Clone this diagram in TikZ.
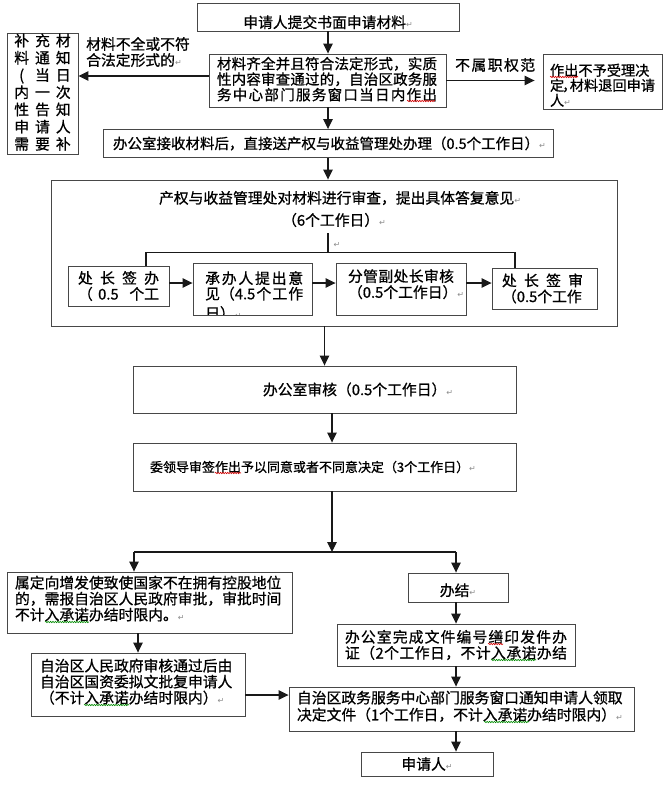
\documentclass[tikz,border=0pt]{standalone}
\usepackage{fontspec}
\newfontfamily\cjk[FakeBold=0.8]{Noto Sans CJK SC}
\newfontfamily\pmfont{DejaVu Sans}
\usetikzlibrary{arrows.meta,decorations.pathmorphing}
\newcommand\fsz[2]{\fontsize{#1}{#2}\selectfont}
\newcommand\parmark{{\pmfont\fontsize{8}{8}\selectfont\textcolor{black!45}{↵}}}
\makeatletter
\newcommand\spreadto[2]{\makebox[#1][s]{\spr@a#2\@nil}}
\def\spr@a#1#2\@nil{#1\ifx\relax#2\relax\else\hfill{}\spr@a#2\@nil\fi}
\makeatother
\tikzset{
  box/.style={draw=black!72, line width=0.9pt, inner ysep=0pt, align=left, font=\cjk\fsz{14.8}{16}},
  arr/.style={draw=black!90, line width=1.1pt, -{Triangle[length=10pt,width=9.5pt]}},
  conn/.style={draw=black!90, line width=1.1pt},
  txt/.style={inner sep=0pt, font=\cjk\fsz{14.8}{16}, align=left},
  spell/.style={draw=red!85!black, line width=0.6pt, decorate, decoration={snake, amplitude=0.7pt, segment length=2.4pt}},
  gram/.style={draw=green!55!black, line width=0.6pt, decorate, decoration={snake, amplitude=0.7pt, segment length=2.4pt}}
}
\begin{document}
\begin{tikzpicture}[x=1pt,y=-1pt]
\useasboundingbox (0,0) rectangle (666,795);
\fill[white] (0,0) rectangle (666,795);

% top
\node[box, text width=246pt, inner xsep=8pt, minimum height=28pt, align=center] (b1) at (328,17) {\rule{0pt}{23pt}申请人提交书面申请材料\parmark};
\node[box, font=\cjk\fsz{14.5}{15.5}, text width=221pt, inner xsep=8pt, minimum height=53pt] (b2) at (327.5,80.5) {\spreadto{220pt}{材料齐全并且符合法定形式，实质}\\\spreadto{220pt}{性内容审查通过的，自治区政务服}\\\spreadto{220pt}{务中心部门服务窗口当日内作出}\rule[-4pt]{0pt}{0pt}};
\node[box, inner sep=0pt, minimum width=71pt, minimum height=120pt] (lbox) at (42.5,94) {\begin{tabular}{@{}c@{\hspace{6pt}}c@{\hspace{6pt}}c@{}}
补&充&材\\ 料&通&知\\ (&当&日\\ 内&一&次\\ 性&告&知\\ 申&请&人\\ 需&要&补
\end{tabular}};
\node[txt, anchor=west] (lab1) at (86,52) {材料不全或不符\\合法定形式的\parmark};
\node[box, font=\cjk\fsz{14.2}{15}, text width=105pt, inner xsep=7pt, minimum height=55pt] (rbox) at (602.5,81.5) {\rule{0pt}{19.5pt}作出不予受理决\\定\kern-2pt{}，\kern-6.6pt{}材料退回申请\\人\parmark};
\node[txt, anchor=west] (lab2) at (455,65) {\spreadto{80pt}{不属职权范}};
\node[box, font=\cjk\fsz{14.5}{16}, text width=434pt, inner xsep=8pt, minimum height=28pt] (b3) at (328,143.5) {\hspace*{2pt}办公室接收材料后，直接送产权与收益管理处办理（0.5个工作日）\parmark};

\draw[arr] (b1.south) -- (b1.south |- b2.north);
\draw[arr] ([yshift=4.5pt]b2.west) -- ([yshift=4.5pt]b2.west -| lbox.east);
\draw[arr, shorten >=8pt] (b2.east) -- (b2.east -| rbox.west);
\draw[arr] (b1.south |- b2.south) -- (b1.south |- b3.north);

% big box
\node[draw=black!72, line width=0.9pt, minimum width=566pt, minimum height=146pt, inner sep=0pt] (big) at (334,253) {};
\draw[arr] (b3.south) -- (b3.south |- big.north);
\node[txt] (t1) at (340,198) {产权与收益管理处对材料进行审查，提出具体答复意见\parmark};
\node[txt] (t2) at (334,220) {（6个工作日）\parmark};
\coordinate (jt) at (328,233);
\coordinate (jm) at (328,253);
\draw[conn] (jt) -- (jm);
\node[txt] (pm1) at (337,245) {\parmark};

\node[box, text width=81pt, inner xsep=10pt, minimum height=40pt] (sb1) at (118.5,286) {\spreadto{81pt}{处长签办}\\\makebox[81pt][s]{（\hfill{}0.5\hfill\hfill{}个工}};
\begin{scope}
\clip (193,263) rectangle (312,315);
\node[txt, anchor=north west, font=\cjk\fsz{14.8}{15.5}] (sb2t) at (205,270.6) {\rule{0pt}{13pt}\spreadto{98pt}{承办人提出意}\\\makebox[98pt][s]{见（4.5\hfill{}个\hfill{}工\hfill{}作}\\[4pt]日）\parmark};
\end{scope}
\node[box, minimum width=119pt, minimum height=52pt, inner sep=0pt] (sb2) at (252.5,289) {};
\node[box, text width=106pt, inner xsep=12pt, minimum height=52pt] (sb3) at (401,289) {\spreadto{106pt}{分管副处长审核}\\（0.5个工作日）\parmark\rule[-11pt]{0pt}{0pt}};
\node[box, text width=85pt, inner xsep=10pt, minimum height=41pt] (sb4) at (544.5,288.5) {\spreadto{81pt}{处长签审}\\（0.5个工作};

\draw[conn] ([xshift=27.5pt]sb1.north) -- ++(0,-13) -| ([xshift=-29.5pt]sb4.north);
\draw[arr] ([yshift=3pt]sb1.east) -- ([yshift=3pt]sb1.east -| sb2.west);
\draw[arr] ([yshift=6pt]sb2.east) -- ([yshift=6pt]sb2.east -| sb3.west);
\draw[arr] ([yshift=6pt]sb3.east) -- ([yshift=6pt]sb3.east -| sb4.west);

% middle
\node[box, text width=367pt, inner xsep=8pt, minimum height=47pt] (audit) at (324.5,389.5) {\hspace*{122pt}办公室审核（0.5个工作日）\parmark};
\node[box, font=\cjk\fsz{13}{15}, text width=367pt, inner xsep=8pt, minimum height=48pt] (lead) at (324.5,467) {\hspace*{9pt}委领导审签作出予以同意或者不同意决定（3个工作日）\parmark};
\draw[arr] (audit.north |- big.south) -- (audit.north);
\draw[arr] ([xshift=7.5pt]audit.south) -- ([xshift=7.5pt]audit.south |- lead.north);

% bottom
\node[box, text width=269pt, inner xsep=8pt, minimum height=61pt] (L1) at (149.5,602.5) {属定向增发使致使国家不在拥有控股地位\\的，需报自治区人民政府审批，审批时间\\不计入承诺办结时限内。\parmark\rule[-9pt]{0pt}{0pt}};
\node[box, text width=196pt, inner xsep=9pt, minimum height=63pt] (L2) at (138,684.5) {自治区人民政府审核通过后由\\自治区国资委拟文批复申请人\\（不计入承诺办结时限内）\parmark\rule[-7pt]{0pt}{0pt}};
\node[box, text width=84pt, inner xsep=8pt, minimum height=29pt, align=center] (done) at (458,587.5) {\rule{0pt}{18pt}办结\parmark};
\node[box, text width=222pt, inner xsep=8pt, minimum height=42pt] (R2) at (456,645) {\spreadto{222pt}{办公室完成文件编号缮印发件办}\\\spreadto{222pt}{证（2个工作日，不计入承诺办结}};
\node[box, font=\cjk\fsz{14.8}{17}, text width=329pt, inner xsep=8pt, minimum height=44pt] (R3) at (461.5,709) {自治区政务服务中心部门服务窗口通知申请人领取\\决定文件（1个工作日，不计入承诺办结时限内）\parmark\rule[-7pt]{0pt}{0pt}};
\node[box, text width=116pt, inner xsep=8pt, minimum height=24pt, align=center] (app) at (427,764) {申请人\parmark};

\coordinate (jb) at (332,552);
\coordinate (jl) at (134,552);
\coordinate (jr) at (456,552);
\draw[arr] ([xshift=7.5pt]lead.south) -- (jb);
\draw[conn] (jl) -- (jr);
\draw[arr] (jl) -- (jl |- L1.north);
\draw[arr] (jr) -- (jr |- done.north);
\draw[arr] (L2.north |- L1.south) -- (L2.north);
\draw[arr] ([yshift=-10.5pt]L2.east) -- ([yshift=-10.5pt]L2.east -| R3.west);
\draw[arr] (R2.north |- done.south) -- (R2.north);
\draw[arr] (R2.south) -- (R2.south |- R3.north);
\draw[arr] (R2.south |- R3.south) -- (R2.south |- app.north);

% proofing marks
\draw[spell] (407,101) -- (435,101);
\draw[spell] (550,77) -- (578,77);
\draw[spell] (488,644) -- (503,644);
\draw[spell] (215,473) -- (241,473);
\draw[gram] (45,622) -- (89,622);
\draw[gram] (84,705) -- (129,705);
\draw[gram] (491,660) -- (536,660);
\draw[gram] (484,722) -- (529,722);
\end{tikzpicture}
\end{document}
